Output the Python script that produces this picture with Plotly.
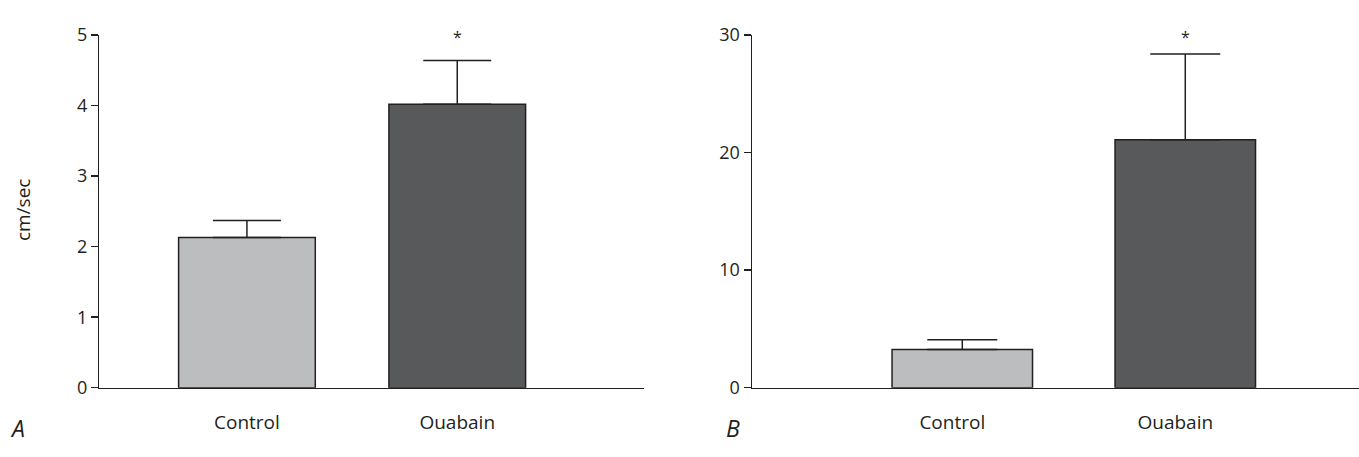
import plotly.graph_objects as go

categories = ["Control", "Ouabain"]
panel_a_mean = [2.13, 4.02]
panel_a_sem = [0.24, 0.62]
panel_b_mean = [3.25, 21.1]
panel_b_sem = [0.83, 7.3]
bar_colors = ["#bcbdbf", "#58595b"]
a_ticks = [0, 1, 2, 3, 4, 5]
b_ticks = [0, 10, 20, 30]
y_title = "cm/sec"
star = "*"

W, H = 1359, 457
edge = "#231f20"
font_family = "Open Sans, Noto Sans, sans-serif"

fig = go.Figure()

fig.add_trace(go.Bar(
    x=categories, y=panel_a_mean, width=0.65,
    marker=dict(color=bar_colors, line=dict(color=edge, width=1.5)),
    error_y=dict(type="data", symmetric=False, array=panel_a_sem,
                 arrayminus=[0, 0], color=edge, thickness=1.5, width=34),
    xaxis="x", yaxis="y", showlegend=False, hoverinfo="skip",
))
fig.add_trace(go.Bar(
    x=categories, y=panel_b_mean, width=0.63,
    marker=dict(color=bar_colors, line=dict(color=edge, width=1.5)),
    error_y=dict(type="data", symmetric=False, array=panel_b_sem,
                 arrayminus=[0, 0], color=edge, thickness=1.5, width=35),
    xaxis="x2", yaxis="y2", showlegend=False, hoverinfo="skip",
))

ydom = [(H - 395.5) / H, (H - 23.3) / H]
common_x = dict(showline=True, linecolor=edge, linewidth=1.5, ticks="",
                showgrid=False, zeroline=False, type="category",
                tickfont=dict(family=font_family, size=19, color="#231f20"),
                ticklabelstandoff=17)
common_y = dict(showline=True, linecolor=edge, linewidth=1.5, ticks="outside",
                ticklen=7, tickwidth=1.5, tickcolor=edge,
                showgrid=False, zeroline=False,
                tickfont=dict(family=font_family, size=18, color="#231f20"),
                domain=ydom)

fig.update_layout(
    width=W, height=H,
    margin=dict(l=0, r=0, t=0, b=0),
    paper_bgcolor="white", plot_bgcolor="white",
    xaxis=dict(domain=[99.3 / W, 644 / W], range=[-0.702, 1.888], anchor="y", **common_x),
    yaxis=dict(range=[0, 5], tickvals=a_ticks, anchor="x", **common_y),
    xaxis2=dict(domain=[752 / W, 1.0], range=[-0.943, 1.779], anchor="y2",
                ticklabelshift=-10, **common_x),
    yaxis2=dict(range=[0, 30], tickvals=b_ticks, anchor="x2", **common_y),
)

# significance asterisks above Ouabain error bars
fig.add_annotation(x=categories[1], y=panel_a_mean[1] + panel_a_sem[1], xref="x", yref="y",
                   text=star, showarrow=False, yanchor="bottom", yshift=10,
                   font=dict(family=font_family, size=16, color=edge))
fig.add_annotation(x=categories[1], y=panel_b_mean[1] + panel_b_sem[1], xref="x2", yref="y2",
                   text=star, showarrow=False, yanchor="bottom", yshift=4,
                   font=dict(family=font_family, size=16, color=edge))

# y-axis title for panel A
fig.add_annotation(x=23 / W, y=(H - 208) / H, xref="paper", yref="paper",
                   text=y_title, textangle=-90, showarrow=False,
                   xanchor="center", yanchor="middle",
                   font=dict(family=font_family, size=19, color="#231f20"))

# panel letters
fig.add_annotation(x=17 / W, y=0, xref="paper", yref="paper",
                   text="<i>A</i>", showarrow=False, xanchor="center", yanchor="bottom",
                   font=dict(family=font_family, size=23, color="#231f20"))
fig.add_annotation(x=733 / W, y=0, xref="paper", yref="paper",
                   text="<i>B</i>", showarrow=False, xanchor="center", yanchor="bottom",
                   font=dict(family=font_family, size=23, color="#231f20"))

fig.write_html(
    "out.html",
    config={"displayModeBar": False, "staticPlot": True},
    post_script="document.body.style.margin='0';document.body.style.padding='0';"
                "document.body.style.overflow='hidden';"
                "document.documentElement.style.overflow='hidden';",
)
